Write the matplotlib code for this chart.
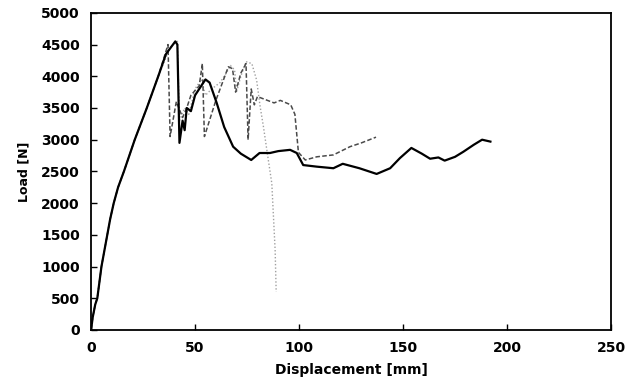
import matplotlib
matplotlib.use("Agg")
from matplotlib import pyplot as plt

plt.rcParams.update({'font.size': 10, 'font.weight': 'bold', 'font.family': 'DejaVu Sans'})

# shared initial loading branch
rise_x = [0, 0.8, 2, 3, 5, 7.8, 9.2, 10.9, 13, 15.8, 21, 26.8, 32.3]
rise_y = [0, 200, 400, 500, 1000, 1500, 1750, 2000, 2250, 2500, 3000, 3500, 4000]

# test 1 (solid)
solid_x = rise_x + [36, 40.5, 41.5, 42.5, 44, 45, 46, 48, 50, 52, 55, 57, 60.4, 64, 68.3,
                    72, 77, 81, 86, 90, 95.7, 98.9, 102, 108.5, 116.5, 121, 129, 137.3,
                    143.8, 148.5, 154, 159, 163, 167, 170, 175, 179, 184, 188, 192]
solid_y = rise_y + [4350, 4550, 4500, 2950, 3300, 3150, 3500, 3450, 3700, 3800, 3950, 3900,
                    3580, 3200, 2890, 2780, 2680, 2790, 2790, 2820, 2840, 2790, 2600, 2575,
                    2550, 2620, 2550, 2460, 2550, 2710, 2870, 2780, 2700, 2720, 2670, 2730,
                    2810, 2920, 3000, 2970]

# test 2 (dashed)
dash_x = rise_x + [37, 38, 41, 44, 46, 48, 52, 53.5, 54.5, 60, 66, 68, 69.5, 72, 74.5,
                   75.5, 77, 78.5, 80, 84, 88, 91, 96, 98, 99.7, 103, 108.5, 116.5,
                   124.5, 130, 137]
dash_y = rise_y + [4500, 3050, 3600, 3350, 3500, 3700, 3850, 4200, 3050, 3620, 4150, 4120,
                   3750, 4050, 4200, 3000, 3800, 3550, 3680, 3630, 3580, 3620, 3550, 3400,
                   2800, 2680, 2730, 2760, 2890, 2950, 3040]

# test 3 (dotted)
dot_x = rise_x + [38, 41.5, 42.5, 45, 47, 50, 53, 55, 58, 62, 65, 67, 69, 70, 72, 74.5,
                  77.3, 79.6, 81.3, 82.9, 84.5, 86.9, 88.5, 89]
dot_y = rise_y + [4450, 4570, 3300, 3500, 3400, 3800, 3950, 3700, 3800, 3900, 4050, 4170,
                  4100, 3760, 4000, 4230, 4200, 3940, 3520, 3200, 2840, 2310, 1260, 600]

fig = plt.figure(figsize=(6.28, 3.9), dpi=100)
ax = fig.add_axes([0.145, 0.154, 0.828, 0.813])

ax.plot(dot_x, dot_y, color='#a0a0a0', lw=1.0, ls=(0, (1, 1.5)))
ax.plot(dash_x, dash_y, color='#4a4a4a', lw=1.1, ls=(0, (3, 1.5)))
ax.plot(solid_x, solid_y, color='black', lw=1.6)

ax.set_xlim(0, 250)
ax.set_ylim(0, 5000)
ax.set_xticks(range(0, 251, 50))
ax.set_yticks(range(0, 5001, 500))
ax.tick_params(direction='in', length=4, width=1, pad=8)
for s in ax.spines.values():
    s.set_linewidth(1.3)

ax.set_xlabel('Displacement [mm]', fontsize=10, fontweight='bold', labelpad=6)
ax.set_ylabel('Load [N]', fontsize=9, fontweight='bold', labelpad=8)

fig.savefig('out.png', dpi=100)
